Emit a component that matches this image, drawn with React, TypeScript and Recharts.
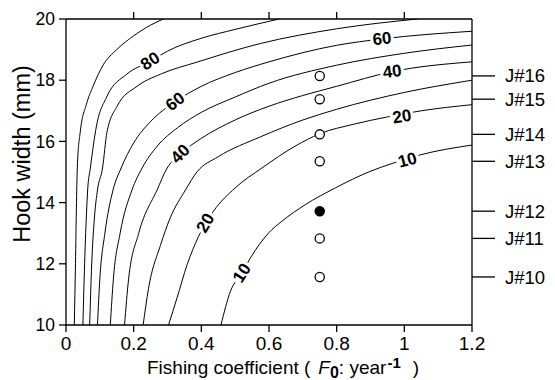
import React from 'react';
import { ComposedChart, Line, Scatter, XAxis, YAxis } from 'recharts';

type P = [number, number];

// Contour lines (fishing coefficient, hook width)
const contour10: P[] = [[0.458, 10], [0.486, 11.1], [0.52, 11.7], [0.545, 12.19], [0.599, 13.01], [0.638, 13.39], [0.707, 13.93], [0.796, 14.48], [0.899, 15.02], [0.967, 15.29], [1.047, 15.56], [1.2, 15.88]];
const contour20: P[] = [[0.303, 10], [0.328, 10.88], [0.358, 11.97], [0.392, 12.9], [0.436, 13.72], [0.5, 14.48], [0.579, 15.13], [0.678, 15.85], [0.75, 16.25], [0.85, 16.56], [0.95, 16.8], [1.05, 17.0], [1.2, 17.2]];
const contour30: P[] = [[0.228, 10], [0.244, 11.2], [0.279, 12.6], [0.308, 13.5], [0.353, 14.41], [0.387, 15.0], [0.45, 15.5], [0.575, 16.15], [0.7, 16.7], [0.8, 17.05], [1.0, 17.6], [1.2, 18.0]];
const contour40: P[] = [[0.173, 10], [0.185, 11.5], [0.215, 13], [0.269, 14.41], [0.299, 15.13], [0.338, 15.59], [0.4, 16.1], [0.5, 16.7], [0.6, 17.15], [0.7, 17.5], [0.8, 17.8], [0.964, 18.28], [1.2, 18.6]];
const contour50: P[] = [[0.131, 10], [0.14, 11.5], [0.16, 13], [0.195, 14.41], [0.225, 15.13], [0.27, 15.85], [0.33, 16.45], [0.4, 16.95], [0.5, 17.45], [0.6, 17.9], [0.8, 18.49], [1.0, 18.88], [1.2, 19.15]];
const contour60: P[] = [[0.093, 10], [0.1, 11.5], [0.115, 13], [0.139, 14.41], [0.163, 15.13], [0.2, 15.95], [0.25, 16.65], [0.323, 17.3], [0.4, 17.8], [0.5, 18.25], [0.6, 18.6], [0.8, 19.14], [0.934, 19.35], [1.2, 19.6]];
const contour70: P[] = [[0.07, 10], [0.076, 12], [0.084, 13.5], [0.093, 14.41], [0.108, 15.13], [0.121, 16.3], [0.151, 17.15], [0.21, 17.8], [0.28, 18.2], [0.39, 18.6], [0.575, 19.2], [0.8, 19.68], [1.038, 20]];
const contour80: P[] = [[0.05, 10], [0.055, 12], [0.06, 13.5], [0.064, 14.41], [0.072, 15.13], [0.09, 16.5], [0.12, 17.45], [0.18, 18.2], [0.25, 18.62], [0.3, 18.95], [0.4, 19.37], [0.5, 19.66], [0.63, 20]];
const contour90: P[] = [[0.0245, 10], [0.028, 12], [0.031, 14], [0.034, 15.3], [0.042, 16.3], [0.06, 17.2], [0.08, 17.8], [0.11, 18.5], [0.15, 19.0], [0.2, 19.45], [0.25, 19.8], [0.288, 20]];

const contours: P[][] = [contour10, contour20, contour30, contour40, contour50, contour60, contour70, contour80, contour90];

// Contour labels
const labelText = ['80', '60', '40', '20', '10', '60', '40', '20', '10'];
const labelX = [0.249, 0.323, 0.338, 0.412, 0.52, 0.934, 0.964, 0.993, 1.009];
const labelY = [18.62, 17.3, 15.59, 13.33, 11.7, 19.35, 18.28, 16.81, 15.39];
const labelAngle = [-33, -37, -45, -60, -57, -6, -7, -9, -15];

// Hooks
const hookF = 0.75;
const hookNames = ['J#10', 'J#11', 'J#12', 'J#13', 'J#14', 'J#15', 'J#16'];
const hookWidth = [11.57, 12.83, 13.72, 15.35, 16.23, 17.38, 18.14];
const selectedHook = 'J#12';

const xTicks = [0, 0.2, 0.4, 0.6, 0.8, 1, 1.2];
const topTicks = [0.2, 0.4, 0.6, 0.8, 1];
const yTicks = [10, 12, 14, 16, 18, 20];

const labelData = labelText.map((t, i) => ({ x: labelX[i], y: labelY[i], text: t, angle: labelAngle[i] }));
const hookData = hookNames.map((n, i) => ({ x: hookF, y: hookWidth[i], name: n, filled: n === selectedHook }));

const LabelShape = (props: any) => {
  const { cx, cy, payload } = props;
  return (
    <text
      x={cx}
      y={cy}
      transform={`rotate(${payload.angle} ${cx} ${cy})`}
      textAnchor="middle"
      dominantBaseline="central"
      fontWeight="bold"
      fontSize={17}
      fill="#000"
      stroke="#fff"
      strokeWidth={6}
      paintOrder="stroke"
      style={{ paintOrder: 'stroke' } as any}
    >
      {payload.text}
    </text>
  );
};

const HookShape = (props: any) => {
  const { cx, cy, payload } = props;
  return <circle cx={cx} cy={cy} r={4.6} fill={payload.filled ? '#000' : '#fff'} stroke="#000" strokeWidth={1.3} />;
};

const fmtX = (v: number) => (v === 0 ? '0' : v === 1 ? '1' : String(v));

export default function App() {
  return (
    <div style={{ position: 'absolute', left: 0, top: 0, width: 555, height: 380, background: '#fff', fontFamily: '"Liberation Sans", Arial, sans-serif' }}>
      <ComposedChart width={555} height={380} margin={{ top: 0, right: 0, bottom: 0, left: 0 }}>
        <XAxis
          xAxisId="b"
          dataKey="x"
          type="number"
          domain={[0, 1.2]}
          allowDataOverflow
          ticks={xTicks}
          interval={0}
          tickFormatter={fmtX}
          tickSize={7}
          tickMargin={5}
          height={55}
          axisLine={{ stroke: '#000', strokeWidth: 1.3 }}
          tickLine={{ stroke: '#000', strokeWidth: 1.3 }}
          tick={{ fill: '#000', fontSize: 19 }}
        />
        <XAxis
          xAxisId="t"
          orientation="top"
          dataKey="x"
          type="number"
          domain={[0, 1.2]}
          allowDataOverflow
          ticks={topTicks}
          interval={0}
          tickFormatter={() => ''}
          tickSize={7}
          height={19}
          axisLine={{ stroke: '#000', strokeWidth: 1.3 }}
          tickLine={{ stroke: '#000', strokeWidth: 1.3 }}
        />
        <YAxis
          yAxisId="l"
          dataKey="y"
          type="number"
          domain={[10, 20]}
          allowDataOverflow
          ticks={yTicks}
          interval={0}
          width={66}
          tickSize={7}
          tickMargin={4}
          axisLine={{ stroke: '#000', strokeWidth: 1.3 }}
          tickLine={{ stroke: '#000', strokeWidth: 1.3 }}
          tick={{ fill: '#000', fontSize: 17.5 }}
        />
        <YAxis
          yAxisId="r"
          orientation="right"
          dataKey="y"
          type="number"
          domain={[10, 20]}
          allowDataOverflow
          ticks={hookWidth}
          interval={0}
          tickFormatter={(v: number) => hookNames[hookWidth.indexOf(v)] ?? ''}
          width={83}
          tickSize={23}
          tickMargin={10}
          axisLine={{ stroke: '#000', strokeWidth: 1.3 }}
          tickLine={{ stroke: '#000', strokeWidth: 1.3 }}
          tick={{ fill: '#000', fontSize: 18.5, textAnchor: 'start' }}
        />
        {contours.map((c, i) => (
          <Line
            key={i}
            xAxisId="b"
            yAxisId="l"
            data={c.map(([x, y]) => ({ x, y }))}
            dataKey="y"
            type="monotone"
            dot={false}
            activeDot={false}
            stroke="#000"
            strokeWidth={1}
            isAnimationActive={false}
          />
        ))}
        <Scatter xAxisId="b" yAxisId="l" data={labelData} dataKey="y" shape={LabelShape} isAnimationActive={false} />
        <Scatter xAxisId="b" yAxisId="l" data={hookData} dataKey="y" shape={HookShape} isAnimationActive={false} />
      </ComposedChart>
      <svg width={555} height={380} style={{ position: 'absolute', left: 0, top: 0, pointerEvents: 'none' }}>
        <text x={22} y={154} transform="rotate(-90 22 154)" textAnchor="middle" dominantBaseline="central" fontSize={23.5} fill="#000">
          Hook width (mm)
        </text>
        <text x={147} y={374} fontSize={19} fill="#000">
          {'Fishing coefficient ('}
          <tspan dx={8} fontStyle="italic">F</tspan>
          <tspan fontSize={16} fontWeight="bold" dy={4}>0</tspan>
          <tspan dy={-4}>{': year'}</tspan>
          <tspan dx={1} dy={-6} fontSize={15} fontWeight="bold">-1</tspan>
          <tspan dx={12} dy={6}>)</tspan>
        </text>
      </svg>
    </div>
  );
}
